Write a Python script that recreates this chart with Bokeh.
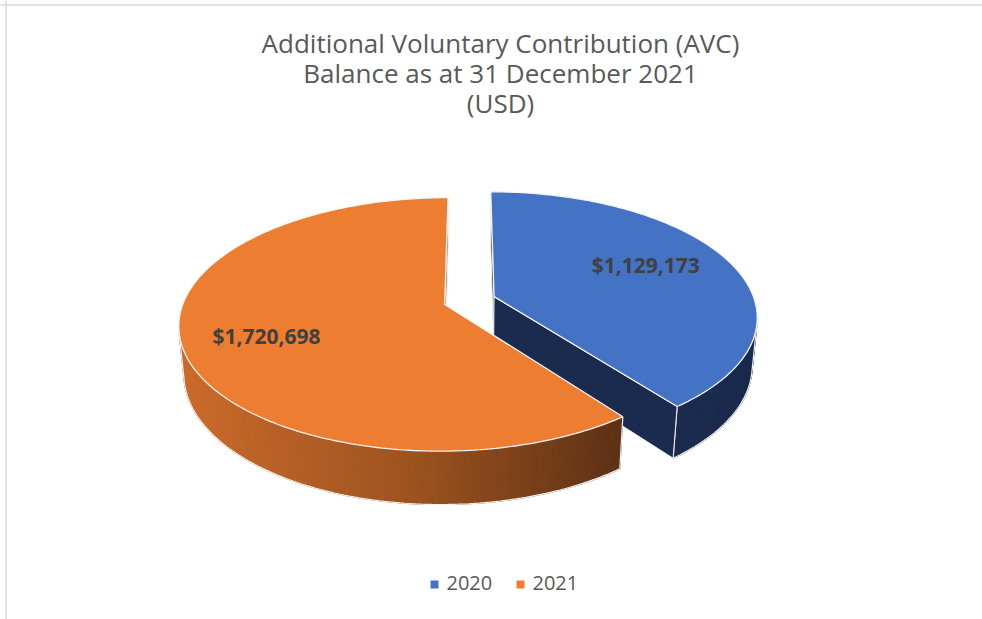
import math
import numpy as np
from bokeh.plotting import figure
from bokeh.models import Range1d, Span
from bokeh.embed import file_html
from bokeh.resources import INLINE
from bokeh.core.properties import value

# ---------------- data ----------------
title_lines = ["Additional Voluntary Contribution (AVC)",
               "Balance as at 31 December 2021",
               "(USD)"]
categories = ["2020", "2021"]
values = [1129173, 1720698]
value_labels = ["$1,129,173", "$1,720,698"]

# ---------------- style ----------------
top_colors = ["#4472C4", "#ED7D31"]
side_stops = [  # (t, rgb) gradient along the visible side, left -> right
    [(0.0, (27, 43, 78)), (1.0, (26, 42, 76))],
    [(0.0, (203, 107, 43)), (0.52, (157, 83, 31)), (1.0, (92, 49, 21))],
]
radial_colors = ["#1B2B4E", "#C8682A"]
label_r = [0.64, 0.69]
label_dy = [-8, 3]
FONT = "Open Sans"

W, H = 982, 619
ALPHA = math.radians(28)
DIST = 5.64
FOC = 1470.0
THICK = 0.21
EXPLODE = 0.10
OX, OY = 469.0, 300.0
sa, ca = math.sin(ALPHA), math.cos(ALPHA)
CAM = np.array([0.0, -DIST * ca, DIST * sa])


def proj(x, y, z):
    up = y * sa + z * ca
    dep = y * ca - z * sa
    s = FOC / (DIST + dep)
    return OX + x * s, OY - up * s


def grad(stops, t):
    for (t0, c0), (t1, c1) in zip(stops[:-1], stops[1:]):
        if t <= t1 or (t1 == stops[-1][0]):
            u = 0 if t1 == t0 else min(max((t - t0) / (t1 - t0), 0), 1)
            return "#%02x%02x%02x" % tuple(int(round(a + (b - a) * u)) for a, b in zip(c0, c1))
    return "#%02x%02x%02x" % stops[-1][1]


p = figure(width=W, height=H, x_range=Range1d(0, W), y_range=Range1d(H, 0),
           output_backend="svg", toolbar_location=None, min_border=0,
           x_axis_location=None, y_axis_location=None)
p.grid.visible = False
p.outline_line_color = None
p.background_fill_color = "white"
p.border_fill_color = "white"

# faint chart-area border (left and top)
p.add_layout(Span(location=5.5, dimension="height", line_color="#d9d9d9", line_width=1.5))
p.add_layout(Span(location=4.5, dimension="width", line_color="#d9d9d9", line_width=1.5))

total = float(sum(values))
angles = []
a0 = 0.0
for v in values:
    a1 = a0 + 360.0 * v / total
    angles.append((a0, a1))
    a0 = a1

slices = []
for i, (a0, a1) in enumerate(angles):
    mid = math.radians((a0 + a1) / 2)
    cx, cy = EXPLODE * math.sin(mid), EXPLODE * math.cos(mid)
    slices.append((i, a0, a1, cx, cy))
# far slices first
slices.sort(key=lambda s: -s[4])

lab = {}
for i, a0, a1, cx, cy in slices:
    n = max(4, int((a1 - a0) / 1.0))
    th = np.radians(np.linspace(a0, a1, n + 1))
    # side strips
    xs, ys, cols = [], [], []
    vis = []
    for j in range(n):
        tm = (th[j] + th[j + 1]) / 2
        nrm = np.array([math.sin(tm), math.cos(tm), 0.0])
        pt = np.array([cx + math.sin(tm), cy + math.cos(tm), -THICK / 2])
        vis.append(float(np.dot(CAM - pt, nrm)) > 0)
    sx_all = []
    for j in range(n):
        if not vis[j]:
            continue
        q = [(th[j], 0), (th[j + 1], 0), (th[j + 1], -THICK), (th[j], -THICK)]
        px, py = zip(*[proj(cx + math.sin(t), cy + math.cos(t), z) for t, z in q])
        xs.append(list(px)); ys.append(list(py))
        sx_all.append(sum(px) / 4)
    if xs:
        xmin, xmax = min(min(x) for x in xs), max(max(x) for x in xs)
        for k in range(len(xs)):
            t = (sx_all[k] - xmin) / max(xmax - xmin, 1)
            cols.append(grad(side_stops[i], t))
        p.patches(xs, ys, fill_color=cols, line_color=cols, line_width=1.2)
        # outline of the visible side runs
        runs, cur = [], []
        for j in range(n):
            if vis[j]:
                cur.append(j)
            elif cur:
                runs.append(cur); cur = []
        if cur:
            runs.append(cur)
        oxs, oys = [], []
        for r in runs:
            ts = list(th[r[0]:r[-1] + 2])
            bx, by = zip(*[proj(cx + math.sin(t), cy + math.cos(t), -THICK) for t in ts])
            oxs.append(list(bx)); oys.append(list(by))
            for t in (ts[0], ts[-1]):
                vx, vy = zip(*[proj(cx + math.sin(t), cy + math.cos(t), z) for z in (0, -THICK)])
                oxs.append(list(vx)); oys.append(list(vy))
        p.multi_line(oxs, oys, line_color="#f2f2f2", line_width=1.2)
    # radial faces
    for ang, sign in ((th[0], -1), (th[-1], 1)):
        nrm = np.array([sign * math.cos(ang), -sign * math.sin(ang), 0.0])
        pt = np.array([cx + 0.5 * math.sin(ang), cy + 0.5 * math.cos(ang), -THICK / 2])
        if float(np.dot(CAM - pt, nrm)) > 0:
            q = [(0, 0), (1, 0), (1, -THICK), (0, -THICK)]
            px, py = zip(*[proj(cx + r * math.sin(ang), cy + r * math.cos(ang), z) for r, z in q])
            p.patch(list(px), list(py), fill_color=radial_colors[i], line_color="#f2f2f2",
                    line_width=1.0)
    # top face
    pts = [proj(cx, cy, 0)] + [proj(cx + math.sin(t), cy + math.cos(t), 0) for t in th]
    tx, ty = zip(*pts)
    p.patch(list(tx), list(ty), fill_color=top_colors[i], line_color="#f5f5f5", line_width=1.3)
    mid = math.radians((a0 + a1) / 2)
    lx, ly = proj(cx + label_r[i] * math.sin(mid), cy + label_r[i] * math.cos(mid), 0)
    lab[i] = (lx, ly + label_dy[i])

# data labels
p.text(x=[lab[i][0] for i in range(len(values))], y=[lab[i][1] for i in range(len(values))],
       text=value_labels, text_font=value(FONT), text_font_style="bold",
       text_font_size="21px", text_color="#404040", text_align="center",
       text_baseline="middle")

# title
p.text(x=[500] * 3, y=[42, 72, 102], text=title_lines, text_font=value(FONT),
       text_font_size="26px", text_color="#595959", text_align="center",
       text_baseline="middle")

# legend
leg_x = [434 + 86 * k for k in range(len(categories))]
p.scatter(x=leg_x, y=[584] * len(categories), marker="square", size=8,
          fill_color=top_colors, line_color=None)
p.text(x=[x + 12 for x in leg_x], y=[582] * len(categories), text=categories,
       text_font=value(FONT), text_font_size="20px", text_color="#595959",
       text_align="left", text_baseline="middle")

open("out.html", "w").write(file_html(p, INLINE))
